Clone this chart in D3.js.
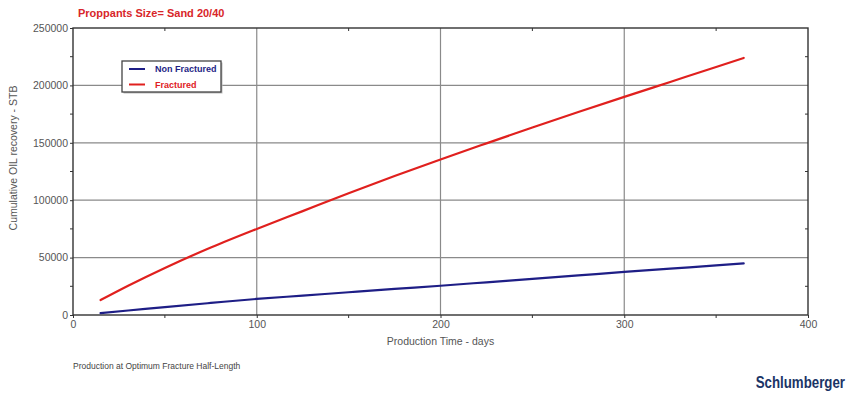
<!DOCTYPE html>
<html>
<head>
<meta charset="utf-8">
<script src="https://cdn.jsdelivr.net/npm/d3@7"></script>
<style>
  html, body { margin: 0; padding: 0; background: #fff; }
  svg { display: block; font-family: "Liberation Sans", Arial, sans-serif; }
</style>
</head>
<body>
<svg id="chart" width="849" height="398"></svg>
<script>
// Production time (days) and cumulative oil recovery (STB)
const days = [15, 30, 50, 75, 100, 125, 150, 175, 200, 225, 250, 275, 300, 325, 350, 365];
const fractured = [13000, 25500, 41000, 58800, 75000, 90500, 106000, 121000, 135500, 149500, 163300, 176800, 190000, 203000, 216000, 223900];
const nonFractured = [1700, 3900, 6900, 10500, 14000, 16900, 19800, 22700, 25500, 28500, 31500, 34500, 37500, 40400, 43200, 45000];

const seriesNames = ["Non Fractured", "Fractured"];
const seriesColors = ["#1e1e86", "#e0201e"];

const xTicks = [0, 100, 200, 300, 400];
const yTicks = [0, 50000, 100000, 150000, 200000, 250000];
const xMinor = [50, 150, 250, 350];
const yMinor = [25000, 75000, 125000, 175000, 225000];

const title = "Proppants Size= Sand 20/40";
const xTitle = "Production Time - days";
const yTitle = "Cumulative OIL recovery - STB";
const footnote = "Production at Optimum Fracture Half-Length";
const brand = "Schlumberger";

const svg = d3.select("#chart");
const m = { left: 73, right: 808, top: 28, bottom: 315 };

const x = d3.scaleLinear().domain([0, 400]).range([m.left, m.right]);
const y = d3.scaleLinear().domain([0, 250000]).range([m.bottom, m.top]);

// grid
const grid = svg.append("g").attr("stroke", "#8a8a8a").attr("stroke-width", 1.2);
grid.selectAll(".gx").data(xTicks.slice(1, -1)).join("line")
  .attr("x1", d => x(d)).attr("x2", d => x(d))
  .attr("y1", m.top).attr("y2", m.bottom);
grid.selectAll(".gy").data(yTicks.slice(1, -1)).join("line")
  .attr("x1", m.left).attr("x2", m.right)
  .attr("y1", d => y(d)).attr("y2", d => y(d));

// axes
const axisColor = "#333";
const xAxis = svg.append("g").attr("transform", `translate(0,${m.bottom})`)
  .call(d3.axisBottom(x).tickValues(xTicks).tickSize(3).tickPadding(3).tickFormat(d3.format("d")));
const yAxis = svg.append("g").attr("transform", `translate(${m.left},0)`)
  .call(d3.axisLeft(y).tickValues(yTicks).tickSize(3).tickPadding(2).tickFormat(d3.format("d")));
[xAxis, yAxis].forEach(a => {
  a.select(".domain").remove();
  a.selectAll("line").attr("stroke", axisColor);
  a.selectAll("text").attr("fill", "#555").style("font-size", "10.5px");
});

// minor ticks on all four sides
const minor = svg.append("g").attr("stroke", axisColor).attr("stroke-width", 1);
minor.selectAll(".mb").data(xMinor).join("line")
  .attr("x1", d => x(d)).attr("x2", d => x(d)).attr("y1", m.bottom).attr("y2", m.bottom + 3);
minor.selectAll(".mt").data(xMinor).join("line")
  .attr("x1", d => x(d)).attr("x2", d => x(d)).attr("y1", m.top).attr("y2", m.top + 3);
minor.selectAll(".ml").data(yMinor).join("line")
  .attr("x1", m.left - 3).attr("x2", m.left).attr("y1", d => y(d)).attr("y2", d => y(d));
minor.selectAll(".mr").data(yMinor).join("line")
  .attr("x1", m.right - 3).attr("x2", m.right).attr("y1", d => y(d)).attr("y2", d => y(d));

// plot frame
svg.append("rect").attr("x", m.left).attr("y", m.top)
  .attr("width", m.right - m.left).attr("height", m.bottom - m.top)
  .attr("fill", "none").attr("stroke", axisColor).attr("stroke-width", 1.4);

// curves
const line = d3.line().x(d => x(d[0])).y(d => y(d[1])).curve(d3.curveMonotoneX);
[nonFractured, fractured].forEach((vals, i) => {
  svg.append("path")
    .datum(days.map((d, j) => [d, vals[j]]))
    .attr("fill", "none").attr("stroke", seriesColors[i])
    .attr("stroke-width", 2.2).attr("stroke-linecap", "round")
    .attr("d", line);
});

// legend
const lg = svg.append("g").attr("transform", "translate(122,61)");
lg.append("rect").attr("x", 1.5).attr("y", 1.5).attr("width", 99).attr("height", 31).attr("fill", "#bbb");
lg.append("rect").attr("width", 99).attr("height", 31).attr("fill", "#fff")
  .attr("stroke", "#444").attr("stroke-width", 1.3);
seriesNames.forEach((name, i) => {
  const yy = 8 + i * 15.5;
  lg.append("line").attr("x1", 7).attr("x2", 23).attr("y1", yy).attr("y2", yy)
    .attr("stroke", seriesColors[i]).attr("stroke-width", 2);
  lg.append("text").attr("x", 33).attr("y", yy).attr("dy", "0.35em")
    .attr("fill", seriesColors[i]).style("font-size", "9px").style("font-weight", "bold")
    .text(name);
});

// titles
svg.append("text").attr("x", 78).attr("y", 17)
  .attr("fill", "#d8262a").style("font-size", "11px").style("font-weight", "bold")
  .text(title);
svg.append("text").attr("x", x(200)).attr("y", 345).attr("text-anchor", "middle")
  .attr("fill", "#555").style("font-size", "10.5px").text(xTitle);
svg.append("text").attr("transform", "translate(17,158) rotate(-90)").attr("text-anchor", "middle")
  .attr("fill", "#555").style("font-size", "10.5px").text(yTitle);
svg.append("text").attr("x", 73).attr("y", 369)
  .attr("fill", "#444").style("font-size", "8.5px").text(footnote);
// condensed wordmark
svg.append("text").attr("transform", "translate(845,388) scale(0.95,1.15)")
  .attr("text-anchor", "end")
  .attr("fill", "#1b3466").style("font-size", "14px").style("font-weight", "bold")
  .text(brand);
</script>
</body>
</html>
